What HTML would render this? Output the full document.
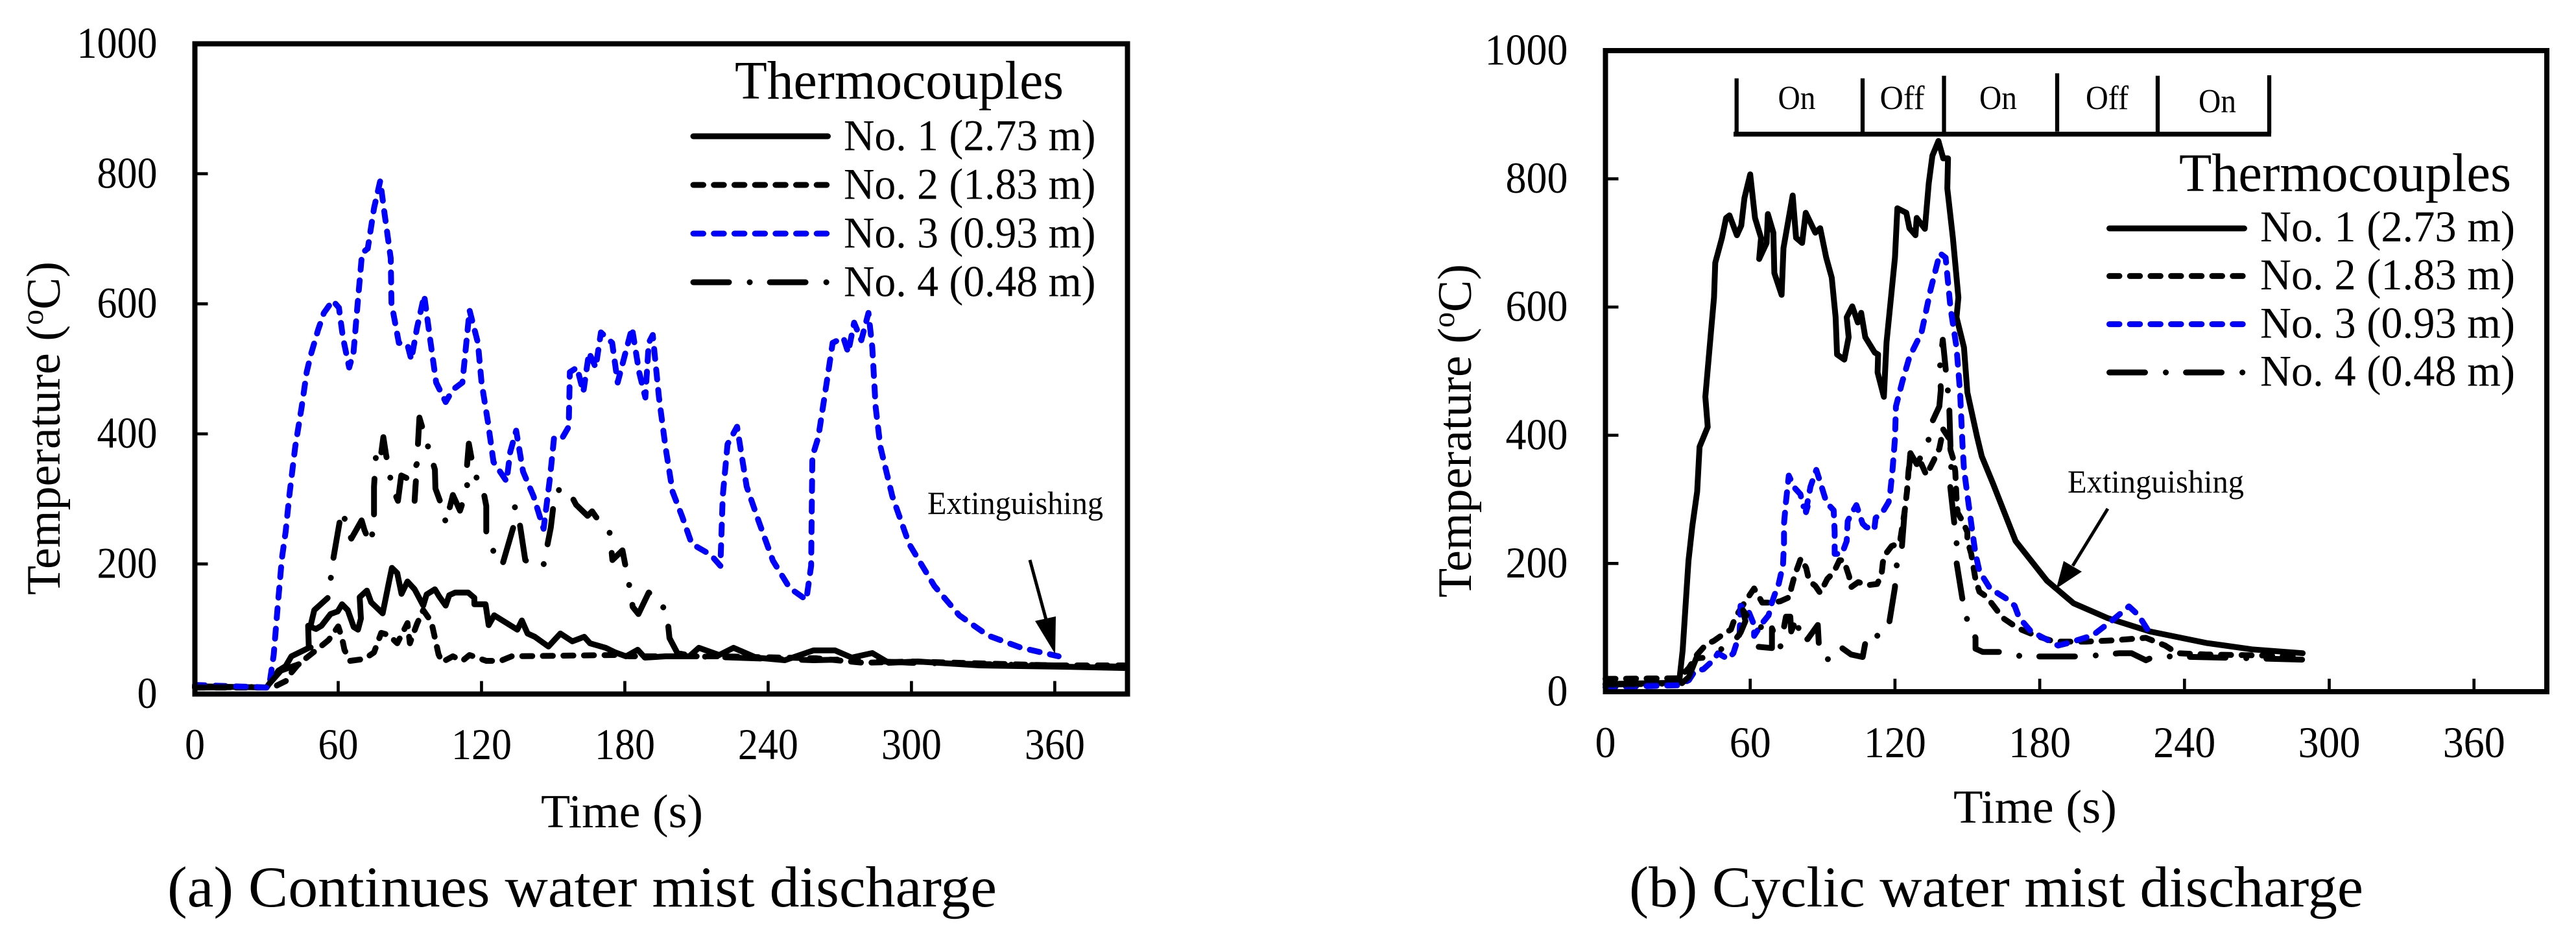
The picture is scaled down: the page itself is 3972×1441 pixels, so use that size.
<!DOCTYPE html>
<html lang="en">
<head>
<meta charset="utf-8">
<title>Temperature histories under water mist discharge</title>
<style>
html,body{margin:0;padding:0;background:#fff;}
svg{display:block;}
text{font-family:"Liberation Serif",serif;fill:#000;}
</style>
</head>
<body>
<svg id="fig" xmlns="http://www.w3.org/2000/svg" width="3972" height="1441" viewBox="0 0 3972 1441">
  <rect x="0" y="0" width="3972" height="1441" fill="#fff"/>

  <g id="panelA"></g>
  <g id="panelB"></g>

  <!-- Panel A static -->
  <text transform="translate(92,660) rotate(-90)" text-anchor="middle" font-size="74">Temperature (<tspan font-size="48" dy="-26">o</tspan><tspan dy="26">C)</tspan></text>
  <text x="834" y="1275" font-size="73" textLength="250" lengthAdjust="spacingAndGlyphs">Time (s)</text>
  <text x="258" y="1397" font-size="89" textLength="1279" lengthAdjust="spacingAndGlyphs">(a) Continues water mist discharge</text>

  <g>
    <text x="1133" y="152" font-size="84" textLength="507" lengthAdjust="spacingAndGlyphs">Thermocouples</text>
    <line x1="1069" x2="1276.5" y1="210" y2="210" stroke="#000" stroke-width="9" stroke-linecap="round"/>
    <line x1="1069" x2="1276.5" y1="285" y2="285" stroke="#000" stroke-width="9" stroke-linecap="round" stroke-dasharray="15.5 16.2"/>
    <line x1="1069" x2="1276.5" y1="360" y2="360" stroke="#0000ff" stroke-width="9" stroke-linecap="round" stroke-dasharray="15.5 16.2"/>
    <line x1="1069" x2="1276.5" y1="435" y2="435" stroke="#000" stroke-width="9" stroke-linecap="round" stroke-dasharray="55 32 0.1 31"/>
    <text x="1301" y="231.7" font-size="68" textLength="388.5" lengthAdjust="spacingAndGlyphs">No. 1 (2.73 m)</text>
    <text x="1301" y="306.7" font-size="68" textLength="388.5" lengthAdjust="spacingAndGlyphs">No. 2 (1.83 m)</text>
    <text x="1301" y="381.7" font-size="68" textLength="388.5" lengthAdjust="spacingAndGlyphs">No. 3 (0.93 m)</text>
    <text x="1301" y="456.7" font-size="68" textLength="388.5" lengthAdjust="spacingAndGlyphs">No. 4 (0.48 m)</text>
  </g>

  <g>
    <text x="1430" y="792" font-size="50" textLength="271" lengthAdjust="spacingAndGlyphs">Extinguishing</text>
    <line x1="1588" y1="863" x2="1613" y2="955" stroke="#000" stroke-width="5"/>
    <polygon points="1627,1008 1596,957 1628,950" fill="#000"/>
  </g>

  <!-- Panel B static -->
  <text transform="translate(2268,664) rotate(-90)" text-anchor="middle" font-size="74">Temperature (<tspan font-size="48" dy="-26">o</tspan><tspan dy="26">C)</tspan></text>
  <text x="3012" y="1268" font-size="73" textLength="252" lengthAdjust="spacingAndGlyphs">Time (s)</text>
  <text x="2512" y="1397" font-size="89" textLength="1132" lengthAdjust="spacingAndGlyphs">(b) Cyclic water mist discharge</text>

  <g>
    <text x="3360" y="294.6" font-size="84" textLength="512" lengthAdjust="spacingAndGlyphs">Thermocouples</text>
    <line x1="3252.5" x2="3460.5" y1="352" y2="352" stroke="#000" stroke-width="9" stroke-linecap="round"/>
    <line x1="3252.5" x2="3460.5" y1="425.4" y2="425.4" stroke="#000" stroke-width="9" stroke-linecap="round" stroke-dasharray="15.5 16.2"/>
    <line x1="3252.5" x2="3460.5" y1="499.6" y2="499.6" stroke="#0000ff" stroke-width="9" stroke-linecap="round" stroke-dasharray="15.5 16.2"/>
    <line x1="3252.5" x2="3460.5" y1="574" y2="574" stroke="#000" stroke-width="9" stroke-linecap="round" stroke-dasharray="55 32 0.1 31"/>
    <text x="3485" y="372" font-size="68" textLength="393" lengthAdjust="spacingAndGlyphs">No. 1 (2.73 m)</text>
    <text x="3485" y="446" font-size="68" textLength="393" lengthAdjust="spacingAndGlyphs">No. 2 (1.83 m)</text>
    <text x="3485" y="520.5" font-size="68" textLength="393" lengthAdjust="spacingAndGlyphs">No. 3 (0.93 m)</text>
    <text x="3485" y="594.5" font-size="68" textLength="393" lengthAdjust="spacingAndGlyphs">No. 4 (0.48 m)</text>
  </g>

  <g>
    <text x="3188" y="759" font-size="50" textLength="272" lengthAdjust="spacingAndGlyphs">Extinguishing</text>
    <line x1="3250" y1="784" x2="3196" y2="872" stroke="#000" stroke-width="5"/>
    <polygon points="3170.6,907 3182,864.6 3210,881" fill="#000"/>
  </g>

  <g>
    <line x1="2673" x2="3502" y1="206.8" y2="206.8" stroke="#000" stroke-width="7.5"/>
    <line x1="2677.7" x2="2677.7" y1="120.7" y2="206" stroke="#000" stroke-width="6.3"/>
    <line x1="2872" x2="2872" y1="120.7" y2="206" stroke="#000" stroke-width="6.3"/>
    <line x1="2997.5" x2="2997.5" y1="116.7" y2="206" stroke="#000" stroke-width="6.3"/>
    <line x1="3172" x2="3172" y1="113" y2="202.7" stroke="#000" stroke-width="6.3"/>
    <line x1="3327" x2="3327" y1="116.7" y2="206" stroke="#000" stroke-width="6.3"/>
    <line x1="3499" x2="3499" y1="116" y2="206" stroke="#000" stroke-width="6.3"/>
    <text x="2770.5" y="168" font-size="52" text-anchor="middle" textLength="58" lengthAdjust="spacingAndGlyphs">On</text>
    <text x="2933" y="168" font-size="52" text-anchor="middle" textLength="69" lengthAdjust="spacingAndGlyphs">Off</text>
    <text x="3081" y="168" font-size="52" text-anchor="middle" textLength="58" lengthAdjust="spacingAndGlyphs">On</text>
    <text x="3249" y="168" font-size="52" text-anchor="middle" textLength="66" lengthAdjust="spacingAndGlyphs">Off</text>
    <text x="3419" y="173" font-size="52" text-anchor="middle" textLength="58" lengthAdjust="spacingAndGlyphs">On</text>
  </g>
</svg>

<script>
// ---- chart data ----
const yTickLabels = [0, 200, 400, 600, 800, 1000];
const xTickLabels = [0, 60, 120, 180, 240, 300, 360];

// Panel (a): continuous discharge
const aTimeNo1 = [0,30,35,38,40.4,47.7,47.4,50.7,53,56.8,59.8,61.6,64,66.5,68.3,69.5,69,72,73.8,78.6,80,81.3,82.5,84.7,86.5,89,92,95.6,97,100.5,102.3,105,106.5,109,114.4,117,117,121.7,123,125.3,135,136.9,139.3,142.3,148,153,158,163,165.4,172,176,180.5,185.4,188.4,197,207,211,219.5,225.5,235,247,259,268,275,283.6,290.5,302.7,328.6,363,389];
const aTempNo1 = [12,10,36,43,58,71,105,100,105,123,127,138,129,103,99,116,149,159,141,124,149,173,194,186,154,173,161,136,153,161,150,136,152,156,156,148,138,138,106,121,99,113,93,88,73,93,81,88,78,71,64,58,68,56,58,58,71,60,71,56,52,67,67,56,63,48,50,44,42,40];

const aTimeNo2 = [0,30,33.7,38.6,40.4,43.4,52,56,60,61.6,62.6,65,71,75,78,81,84.7,89,90,93,95.6,99,102,103.5,108,112,115,122,128,132.6,176,182,220,260,280,300,330,360,389];
const aTempNo2 = [10,10,12,21,33,46,71,83,104,86,68,51,54,64,94,91,78,109,78,108,129,111,61,49,58,51,60,51,51,58,60,58,58,55,48,50,47,44,44];

const aTimeNo3 = [0,31,33,34.7,36.4,38,39.5,42,44.7,46.8,48.5,51.6,54,57.7,60.3,62,64.6,66.4,68,70,72.4,75,77.6,79.4,82,82.3,85.4,89,90.6,93,96,98.4,101,105,108,112,115,118.5,120,122.7,125,130.5,132,134.5,137.4,141.8,146,148.7,150.4,154,156.5,157,160,162.6,165,167.8,170,174.7,177,183,186,188.6,190,191.7,194.3,197,200,204,208,216,220,221,223,227,231,236,242,249,256,258,258.5,261,264.5,267,271.5,273.5,276,279,282,283.6,285,287,292,299,309.6,320,332,346,361.6];
const aTempNo3 = [14,10,60,136,208,250,304,380,441,495,521,560,586,605,594,548,502,525,594,678,685,747,789,739,670,601,540,537,514,563,613,548,479,449,468,479,590,540,479,418,357,327,372,405,342,304,254,334,395,395,411,495,502,464,525,502,556,540,479,563,495,456,540,552,456,380,311,273,231,214,197,304,384,411,319,266,205,163,145,197,365,395,479,540,548,525,571,544,586,533,441,380,304,231,166,121,90,71,58];

const aTimeNo4 = [0,30,36,43.7,48.5,48.5,50,56,57,58,60.7,62,63.7,65.5,69.8,71,73.4,75,75,75.5,75.9,77.7,78.9,80,81,82.5,85,86.4,90.4,93,92,93.4,94,98.3,100.5,100.7,104.4,105,108,111,114,113.8,114.7,117,120.7,122,122,124.4,125.8,129,133.5,134,136,138.3,142.4,146,149,150,150.5,153,157,159.6,164.4,166.3,168,173.5,174,174.8,179,182,183.3,185.7,190,195,197.8,198.7,202,209,259,270,300,389];
const aTempNo4 = [10,11,36,46,71,106,129,149,181,209,267,282,252,239,267,252,231,259,319,349,372,362,395,369,349,319,297,336,329,355,297,385,425,372,345,316,279,262,306,282,316,345,385,339,314,289,249,231,202,202,259,288,262,206,195,199,256,286,306,316,309,291,274,281,272,252,236,206,221,164,134,123,156,143,118,86,63,58,52,53,48,42];

// Panel (b): cyclic discharge
const bTimeNo1 = [0,30.5,32,34.4,36,38,39,42.4,41.4,43.7,45,45.5,48.3,50,51.4,54.5,56.3,57.6,60,62,64.5,63.7,66.8,67.3,69.6,70,73,73.8,77.6,79,81.5,83,87,89,91.5,93.8,95.4,96,99,100.8,100,102.3,104.6,106,107.7,111.6,113,112.8,115.4,116.5,120,121,124.7,126,128.5,129,132.4,134,135.5,138,140,142,141.7,144,146.3,145.5,148.6,150,154,156,160.7,170,183,194,208,225.6,249,268,289];
const bTempNo1 = [12,14,64,204,258,312,382,413,460,560,615,669,708,739,743,712,727,770,807,739,708,675,700,745,716,653,619,692,774,708,700,747,716,723,677,646,584,526,518,553,584,601,576,591,553,529,526,498,460,545,677,754,747,723,712,739,722,793,836,859,832,832,785,708,615,584,537,467,398,367,324,235,173,138,115,94,76,66,60];

const bTimeNo2 = [0,30.4,34.6,38,41.8,44.8,49,52,53.8,58,61.6,65,69,72.4,76.6,77,78.4,81,83.2,84.4,87,89,92,94.6,97,98.8,101,101.8,104.8,108.4,112.6,114.4,115,115.6,118.6,122,124,125,125.6,126.4,129,131,133,136,138.4,140,142.6,143,144.4,145,145.6,146,148,150,150,151.6,153.4,155,158,164.7,171,178,186,199,210,224,232,237,249,265,289];
const bTempNo2 = [20,21,37,58,74,79,90,97,116,141,161,139,139,141,148,161,181,208,193,173,165,154,176,186,205,205,180,163,171,166,168,182,202,212,227,232,281,313,343,372,355,355,338,360,379,409,394,377,360,343,296,279,266,249,236,215,175,156,148,115,99,88,78,78,80,84,72,60,58,57,55];

const bTimeNo3 = [0,30,34.6,37,40.6,45,46.6,50.8,53,55.6,56,59,61.6,61.6,65,67.6,69,70,71.8,73.6,74,74,74.8,76,78.4,80.8,82,83.8,82.6,85,87.4,89,91.6,94.6,95,95,98,100,100.4,102,104,106.6,108,111.4,112,115,117.4,118,119,120,120.4,123,126,131,134.7,138.6,141,143,145.5,147,148,148.6,150.4,152,153.4,155,159.4,166.6,169.6,171.4,176.8,178,187.6,192,202,210,217,221,225];
const bTempNo3 = [7,10,18,32,35,50,60,51,60,90,134,128,104,87,107,119,139,150,168,198,232,262,296,337,318,308,289,289,273,320,346,327,295,283,249,215,215,235,266,278,291,262,257,252,271,281,296,310,347,395,445,483,522,560,626,684,677,599,537,467,384,347,296,252,215,188,161,144,134,116,92,91,72,76,88,111,133,119,95];

const bTimeNo4 = [0,31.6,34.6,37.6,41,46,53,56,58,57,60.4,64.6,63.4,69,69,72.4,74.8,76.6,77,79.6,80.5,83.8,88,88.6,92,97.3,101.8,106.6,108.4,113,117.4,120,120.4,122.8,124,125,126.4,129,133.6,134.8,138.4,139,138.6,139.8,142,142.5,143,143.3,142.9,144.7,145.6,145.6,148.2,150,153.4,153.4,156.4,165,172.6,180,197,205,213,218,224,227.5,235,268,289];
const bTempNo4 = [11,13,23,52,53,62,77,92,110,127,110,105,70,68,99,68,117,117,94,117,80,82,104,63,50,70,58,54,90,87,102,163,193,222,281,313,372,355,385,416,445,471,505,549,467,444,382,350,320,259,230,200,139,111,84,67,62,62,55,55,55,57,60,60,49,55,55,52,50];

const SVG_NS = 'http://www.w3.org/2000/svg';
const BLACK = '#000000';
const BLUE = '#0000ff';
const DASH = '15.5 16.2';
const DASHDOT = '55 32 0.1 31';

function drawPanel(rootId, left, right, top, bottom, pxPerSec, pxPerDeg, xLabelBaseline, digitWidth, series) {
  const root = document.getElementById(rootId);
  const xOf = function (t) { return left + t * pxPerSec; };
  const yOf = function (v) { return bottom - v * pxPerDeg; };

  series.forEach(function (s) {
    const path = document.createElementNS(SVG_NS, 'path');
    const d = s.times.map(function (t, i) {
      return (i ? 'L' : 'M') + xOf(t).toFixed(1) + ' ' + yOf(s.temps[i]).toFixed(1);
    }).join(' ');
    path.setAttribute('d', d);
    path.setAttribute('fill', 'none');
    path.setAttribute('stroke', s.color);
    path.setAttribute('stroke-width', '9');
    path.setAttribute('stroke-linejoin', 'round');
    path.setAttribute('stroke-linecap', 'round');
    if (s.dash) path.setAttribute('stroke-dasharray', s.dash);
    
    
    root.appendChild(path);
  });

  const frame = document.createElementNS(SVG_NS, 'rect');
  frame.setAttribute('x', left);
  frame.setAttribute('y', top);
  frame.setAttribute('width', right - left);
  frame.setAttribute('height', bottom - top);
  frame.setAttribute('fill', 'none');
  frame.setAttribute('stroke', '#000');
  frame.setAttribute('stroke-width', '8');
  
  
  root.appendChild(frame);

  yTickLabels.forEach(function (v) {
    if (v > 0 && v < 1000) {
      const tick = document.createElementNS(SVG_NS, 'line');
      tick.setAttribute('x1', left);
      tick.setAttribute('x2', left + 20);
      tick.setAttribute('y1', yOf(v));
      tick.setAttribute('y2', yOf(v));
      tick.setAttribute('stroke', '#000');
      tick.setAttribute('stroke-width', '4.7');
      
      
      root.appendChild(tick);
    }
    const label = document.createElementNS(SVG_NS, 'text');
    const text = String(v);
    label.setAttribute('x', left - 58);
    label.setAttribute('y', yOf(v) + 21.5);
    label.setAttribute('text-anchor', 'end');
    label.setAttribute('font-size', '68');
    label.setAttribute('textLength', text.length * digitWidth);
    label.setAttribute('lengthAdjust', 'spacingAndGlyphs');
    label.textContent = text;
    
    
    root.appendChild(label);
  });

  xTickLabels.forEach(function (t) {
    if (t > 0) {
      const tick = document.createElementNS(SVG_NS, 'line');
      tick.setAttribute('x1', xOf(t));
      tick.setAttribute('x2', xOf(t));
      tick.setAttribute('y1', bottom);
      tick.setAttribute('y2', bottom - 20);
      tick.setAttribute('stroke', '#000');
      tick.setAttribute('stroke-width', '4.7');
      
      
      root.appendChild(tick);
    }
    const label = document.createElementNS(SVG_NS, 'text');
    const text = String(t);
    label.setAttribute('x', xOf(t));
    label.setAttribute('y', xLabelBaseline);
    label.setAttribute('text-anchor', 'middle');
    label.setAttribute('font-size', '68');
    label.setAttribute('textLength', text.length * digitWidth);
    label.setAttribute('lengthAdjust', 'spacingAndGlyphs');
    label.textContent = text;
    
    
    root.appendChild(label);
  });
}

drawPanel('panelA', 300.5, 1738.5, 67.5, 1069.6, 3.683, 1.0023, 1170, 31, [
  { name: 'series-no1-2-73m', times: aTimeNo1, temps: aTempNo1, color: BLACK, dash: null },
  { name: 'series-no2-1-83m', times: aTimeNo2, temps: aTempNo2, color: BLACK, dash: DASH },
  { name: 'series-no3-0-93m', times: aTimeNo3, temps: aTempNo3, color: BLUE, dash: DASH },
  { name: 'series-no4-0-48m', times: aTimeNo4, temps: aTempNo4, color: BLACK, dash: DASHDOT }
]);

drawPanel('panelB', 2475.5, 3927, 78, 1066, 3.72, 0.988, 1167, 32, [
  { name: 'series-no1-2-73m', times: bTimeNo1, temps: bTempNo1, color: BLACK, dash: null },
  { name: 'series-no2-1-83m', times: bTimeNo2, temps: bTempNo2, color: BLACK, dash: DASH },
  { name: 'series-no3-0-93m', times: bTimeNo3, temps: bTempNo3, color: BLUE, dash: DASH },
  { name: 'series-no4-0-48m', times: bTimeNo4, temps: bTempNo4, color: BLACK, dash: DASHDOT }
]);
</script>
</body>
</html>
